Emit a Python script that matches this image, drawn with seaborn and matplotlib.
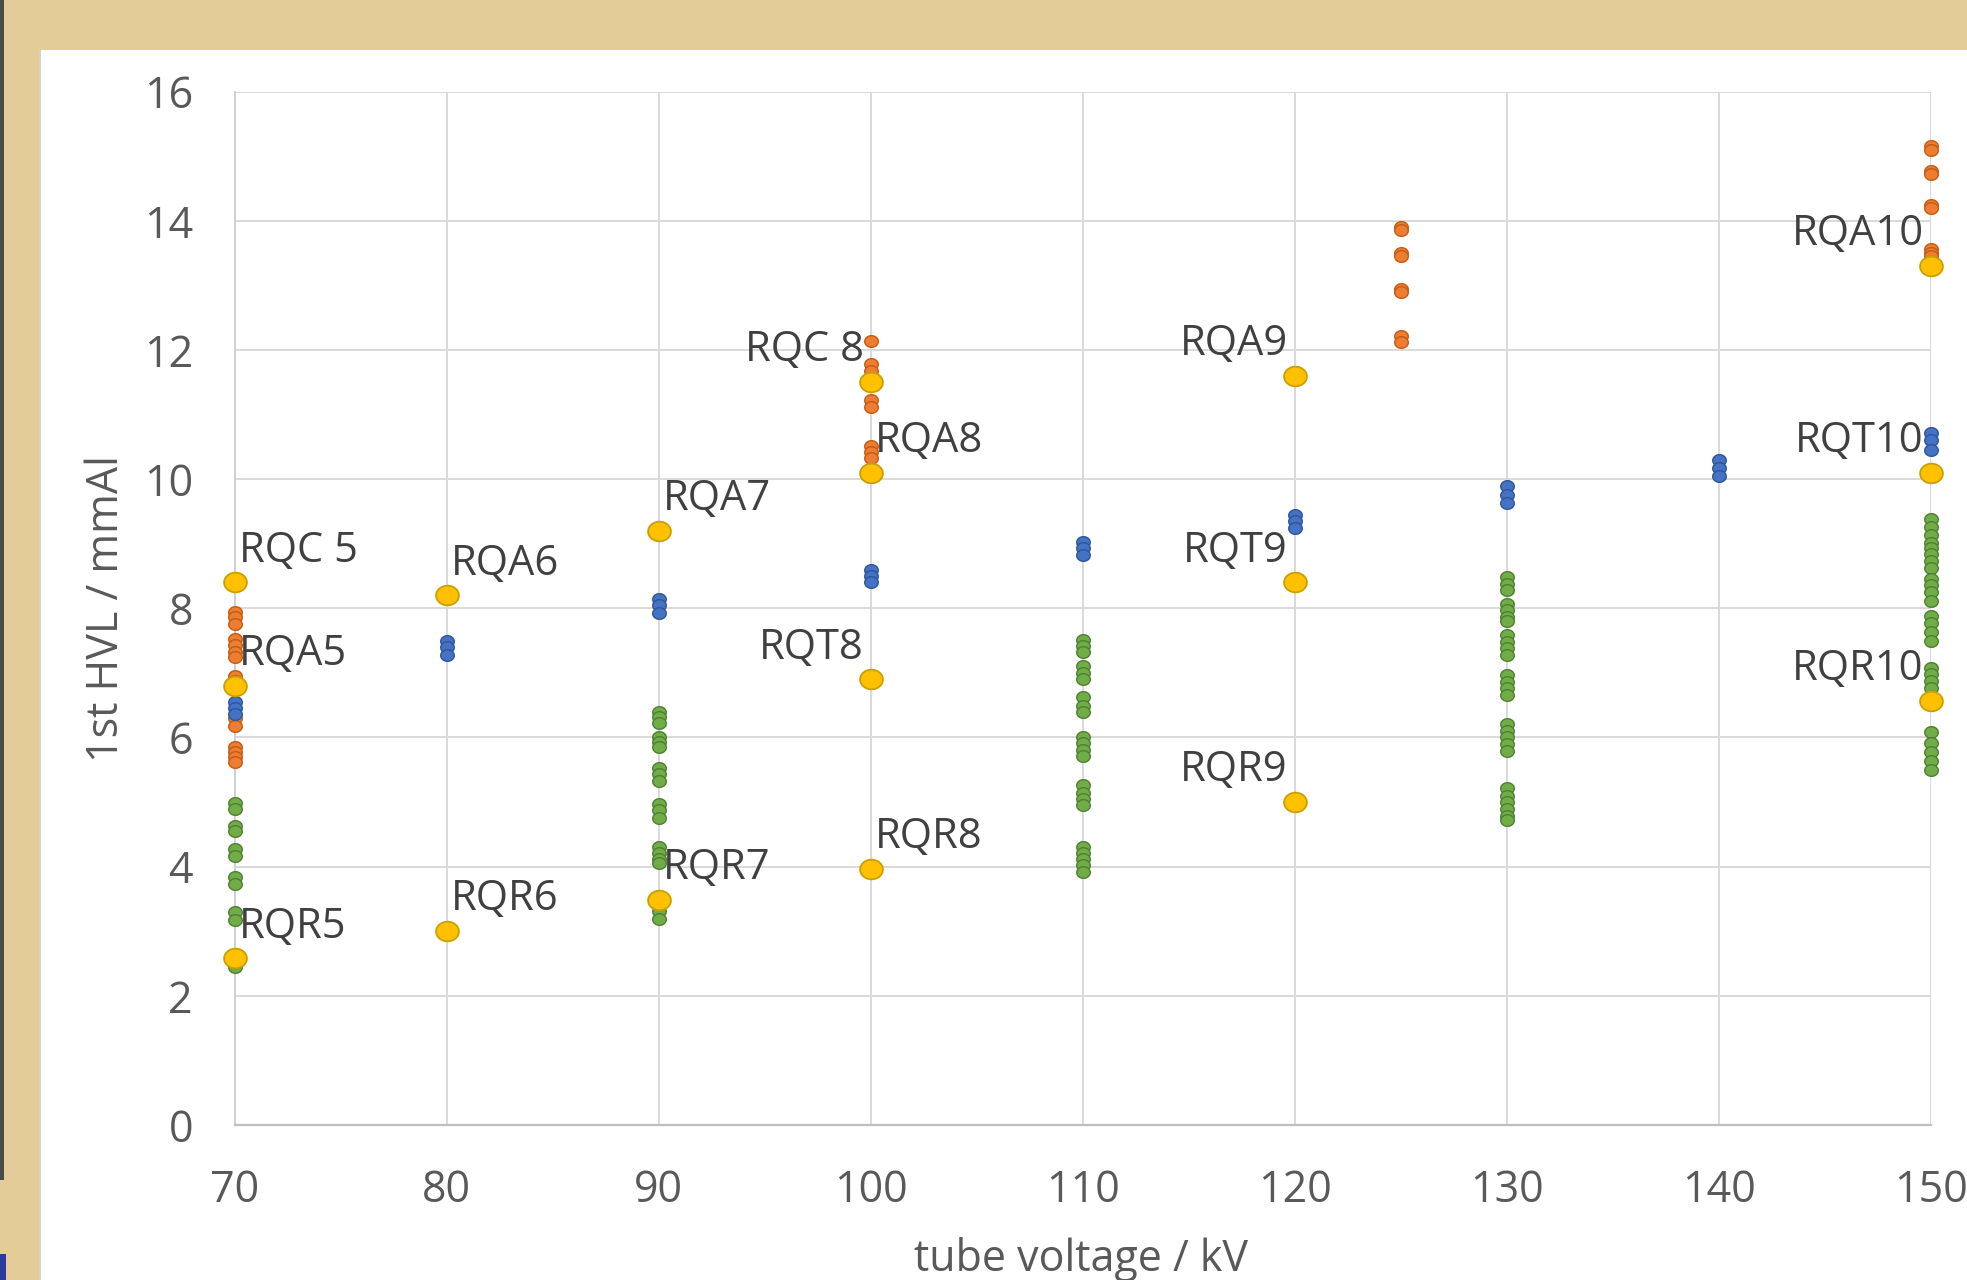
import numpy as np
import pandas as pd
import matplotlib
matplotlib.use("Agg")
import matplotlib.pyplot as plt
import seaborn as sns
from matplotlib.path import Path
from matplotlib.patches import Rectangle

# ---------------- data ----------------
orange_kv = [70]*15 + [100]*8 + [125]*8 + [150]*9
orange_hvl = [7.94, 7.86, 7.76, 7.53, 7.43, 7.33, 7.24, 6.95, 6.88, 6.30, 6.18, 5.86, 5.78, 5.70, 5.62,
              12.14, 11.78, 11.68, 11.23, 11.12, 10.51, 10.42, 10.33,
              13.90, 13.86, 13.50, 13.45, 12.95, 12.90, 12.22, 12.12,
              15.15, 15.10, 14.77, 14.72, 14.25, 14.20, 13.56, 13.50, 13.45]

blue_kv = [70]*3 + [80]*3 + [90]*3 + [100]*3 + [110]*3 + [120]*3 + [130]*3 + [140]*3 + [150]*3
blue_hvl = [6.55, 6.45, 6.37,
            7.50, 7.40, 7.27,
            8.15, 8.05, 7.93,
            8.59, 8.50, 8.40,
            9.02, 8.93, 8.83,
            9.45, 9.35, 9.24,
            9.90, 9.76, 9.63,
            10.30, 10.17, 10.05,
            10.72, 10.60, 10.45]

green_kv = [70]*11 + [90]*18 + [110]*22 + [130]*26 + [150]*25
green_hvl = [4.99, 4.89, 4.63, 4.55, 4.27, 4.17, 3.84, 3.73, 3.30, 3.17, 2.45,
             6.39, 6.31, 6.23, 6.00, 5.93, 5.85, 5.53, 5.43, 5.33, 4.97, 4.88, 4.76,
             4.31, 4.21, 4.12, 4.05, 3.31, 3.19,
             7.51, 7.42, 7.32, 7.10, 7.00, 6.90, 6.62, 6.49, 6.39, 6.00, 5.91, 5.81, 5.72,
             5.27, 5.14, 5.04, 4.95, 4.31, 4.21, 4.12, 4.02, 3.92,
             8.48, 8.38, 8.28, 8.07, 7.97, 7.86, 7.80, 7.59, 7.48, 7.38, 7.28, 6.97, 6.86,
             6.76, 6.66, 6.21, 6.10, 6.00, 5.90, 5.79, 5.21, 5.10, 5.00, 4.90, 4.79, 4.72,
             9.38, 9.26, 9.13, 9.01, 8.94, 8.84, 8.74, 8.63, 8.46, 8.36, 8.26, 8.12,
             7.88, 7.77, 7.63, 7.50, 7.08, 6.98, 6.88, 6.77, 6.08, 5.91, 5.77, 5.63, 5.50]

ref_kv = [70, 70, 70, 80, 80, 90, 90, 100, 100, 100, 100, 120, 120, 120, 150, 150, 150]
ref_hvl = [8.4, 6.8, 2.58, 8.2, 3.0, 9.2, 3.48, 11.5, 10.1, 6.9, 3.97, 11.6, 8.4, 5.0, 13.3, 10.1, 6.57]
ref_labels = ["RQC 5", "RQA5", "RQR5", "RQA6", "RQR6", "RQA7", "RQR7",
              "RQC 8", "RQA8", "RQT8", "RQR8", "RQA9", "RQT9", "RQR9",
              "RQA10", "RQT10", "RQR10"]
ref_label_side = ["right", "right", "right", "right", "right", "right", "right",
                  "left", "right", "left", "right", "left", "left", "left",
                  "left", "left", "left"]

x_ticks = [70, 80, 90, 100, 110, 120, 130, 140, 150]
y_ticks = [0, 2, 4, 6, 8, 10, 12, 14, 16]
x_label = "tube voltage / kV"
y_label = "1st HVL / mmAl"

# ---------------- style ----------------
sns.set_theme(style="white")
plt.rcParams['font.family'] = ['Open Sans', 'DejaVu Sans']

W, H = 1967, 1280
fig = plt.figure(figsize=(W/100, H/100), dpi=100)
fig.patch.set_facecolor('#e3cc97')

# white chart panel
fig.patches.append(Rectangle((41/W, 0), 1 - 41/W, 1 - 50/H, transform=fig.transFigure,
                             facecolor='white', edgecolor='none', zorder=-10))
fig.patches.append(Rectangle((39/W, 0), 2/W, 1 - 50/H, transform=fig.transFigure,
                             facecolor='#d8d2c4', edgecolor='none', zorder=-10))
fig.patches.append(Rectangle((0, 1 - 1180/H), 4/W, 1180/H, transform=fig.transFigure,
                             facecolor='#4a4a4a', edgecolor='none', zorder=-10))
fig.patches.append(Rectangle((0, 0), 6/W, 26/H, transform=fig.transFigure,
                             facecolor='#2b3a9c', edgecolor='none', zorder=-10))

left, right = 234.6/W, 1930.7/W
bottom, top = 1 - 1125/H, 1 - 91.6/H
ax = fig.add_axes([left, bottom, right-left, top-bottom])
ax.set_zorder(5)
ax.set_facecolor('white')

# elliptical marker (slightly wider than tall, like the reference)
t = np.linspace(0, 2*np.pi, 72)
ell = Path(np.column_stack([np.cos(t), 0.86*np.sin(t)]), closed=True)

small_s = 95
sns.scatterplot(x=orange_kv, y=orange_hvl, ax=ax, marker=ell, s=small_s,
                color='#ED7D31', edgecolor='#C55A11', linewidth=1.0, zorder=3, clip_on=False)
sns.scatterplot(x=blue_kv, y=blue_hvl, ax=ax, marker=ell, s=small_s,
                color='#4472C4', edgecolor='#2F5597', linewidth=1.0, zorder=4, clip_on=False)
sns.scatterplot(x=green_kv, y=green_hvl, ax=ax, marker=ell, s=small_s,
                color='#70AD47', edgecolor='#507E32', linewidth=1.0, zorder=5, clip_on=False)
sns.scatterplot(x=ref_kv, y=ref_hvl, ax=ax, marker=ell, s=270,
                color='#FFC000', edgecolor='#C9A000', linewidth=1.3, zorder=6, clip_on=False)

for x, y, lab, side in zip(ref_kv, ref_hvl, ref_labels, ref_label_side):
    if side == "right":
        ax.annotate(lab, (x, y), xytext=(3, 15), textcoords='offset points',
                    ha='left', va='baseline', fontsize=30, color='#404040', zorder=7)
    else:
        ax.annotate(lab, (x, y), xytext=(-5, 15), textcoords='offset points',
                    ha='right', va='baseline', fontsize=30, color='#404040', zorder=7)

ax.set_xlim(70, 150)
ax.set_ylim(0, 16)
ax.set_xticks(x_ticks)
ax.set_yticks(y_ticks)
ax.grid(True, color='#d9d9d9', linewidth=1.4)
ax.set_axisbelow(True)
for side in ['top', 'right']:
    ax.spines[side].set_visible(False)
ax.spines['left'].set_color('#d0d0d0')
ax.spines['bottom'].set_color('#bfbfbf')
ax.spines['left'].set_linewidth(1.4)
ax.spines['bottom'].set_linewidth(1.6)
ax.tick_params(axis='both', length=0, labelsize=31, labelcolor='#595959')
ax.tick_params(axis='y', pad=30)
ax.tick_params(axis='x', pad=31)

ax.set_xlabel(x_label, fontsize=31, color='#595959')
ax.set_ylabel(y_label, fontsize=31, color='#595959')
ax.xaxis.set_label_coords((1081 - 234.6)/(1930.7-234.6), -(1259-1125)/(1125-91.6))
ax.yaxis.set_label_coords(-(234.6-107)/(1930.7-234.6), 0.5)
ax.xaxis.label.set_va('center')
ax.yaxis.label.set_va('center')

fig.savefig('out.png', dpi=100, facecolor=fig.get_facecolor())
